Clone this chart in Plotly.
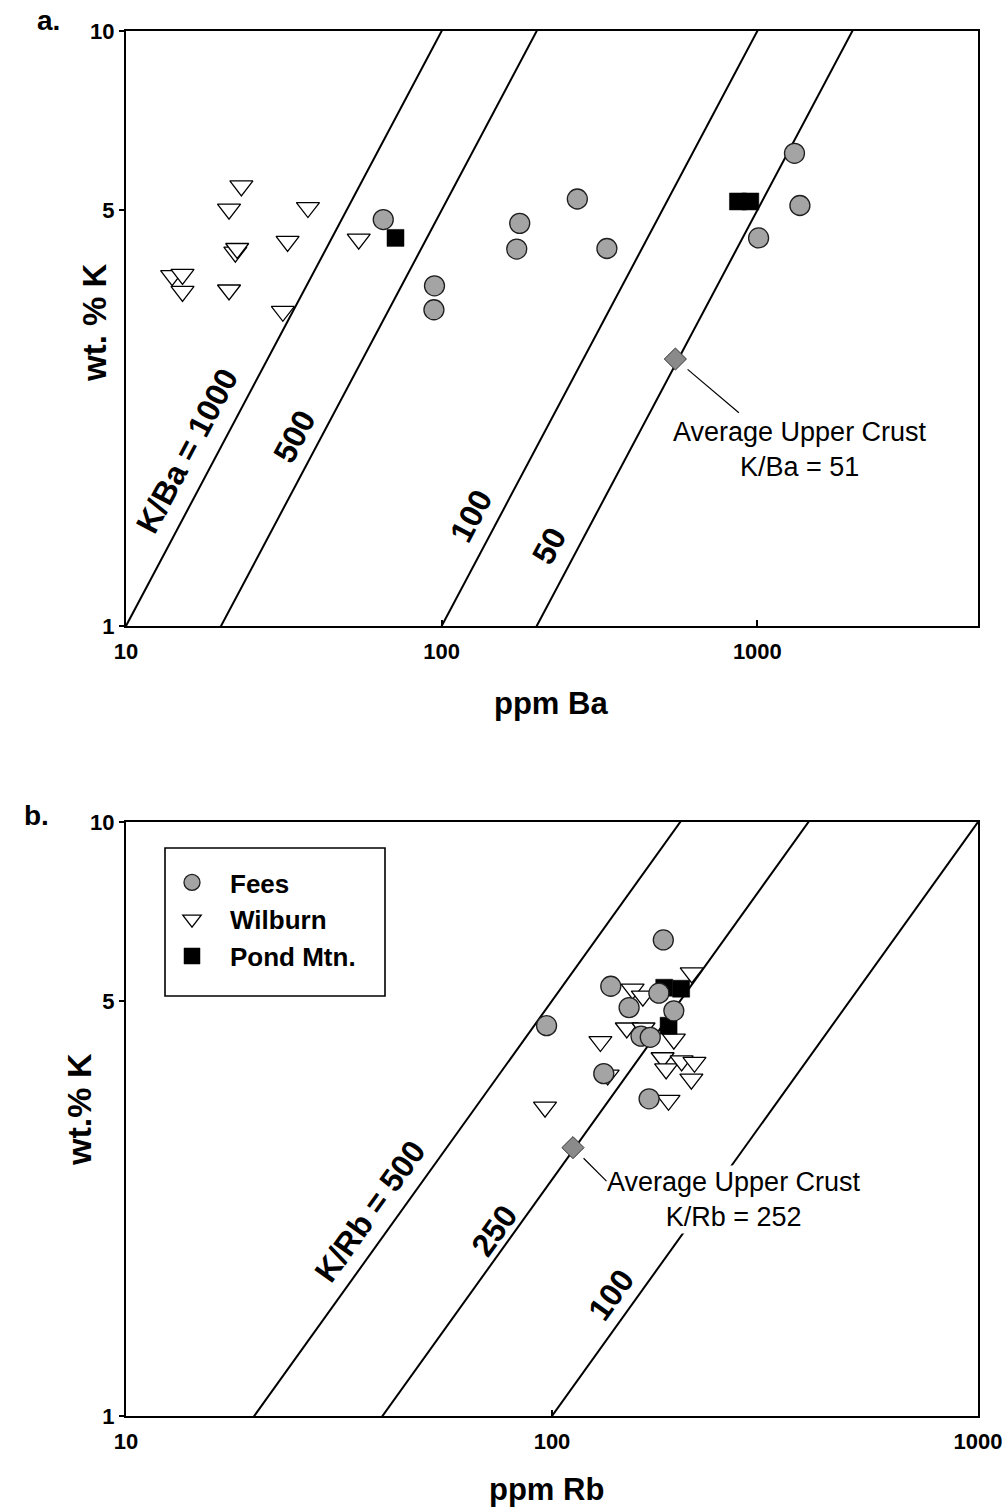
import numpy as np
import plotly.graph_objects as go

# ---------------- Panel a: wt.% K vs ppm Ba ----------------
fees_ba = [65.3, 94.9, 94.5, 176.7, 172.9, 269, 333.8, 1311, 1364, 1009]
fees_k_a = [4.82, 3.73, 3.40, 4.75, 4.30, 5.22, 4.31, 6.23, 5.09, 4.49]

wilburn_ba = [23.2, 21.2, 37.7, 32.5, 22.2, 22.5, 54.6, 14.0, 15.1, 15.1, 21.2, 31.4]
wilburn_k_a = [5.49, 5.02, 5.05, 4.43, 4.25, 4.31, 4.47, 3.88, 3.90, 3.65, 3.67, 3.38]

pond_ba = [71.4, 868, 950]
pond_k_a = [4.49, 5.17, 5.17]

crust_ba = [550]
crust_k_a = [2.81]

ratio_ba = [1000, 500, 100, 50]
ratio_ba_labels = ["K/Ba = 1000", "500", "100", "50"]
ratio_ba_label_k = [1.87, 1.99, 1.46, 1.30]

# ---------------- Panel b: wt.% K vs ppm Rb ----------------
fees_rb = [182.5, 137.4, 178.2, 151.7, 193.2, 97.1, 161.8, 170.1, 132.3, 169.0]
fees_k_b = [6.33, 5.29, 5.15, 4.87, 4.81, 4.54, 4.36, 4.34, 3.77, 3.42]

wilburn_rb = [212.8, 154.6, 163.4, 149.8, 164.0, 129.9, 193.2, 181.8, 185.3, 201.5, 216.0, 212.4, 135.1, 187.7, 96.3]
wilburn_k_b = [5.57, 5.23, 5.09, 4.50, 4.50, 4.27, 4.31, 4.01, 3.84, 3.96, 3.94, 3.69, 3.75, 3.40, 3.31]

pond_rb = [183.4, 201.0, 187.8]
pond_k_b = [5.26, 5.24, 4.54]

crust_rb = [112]
crust_k_b = [2.83]

ratio_rb = [500, 250, 100]
ratio_rb_labels = ["K/Rb = 500", "250", "100"]
ratio_rb_label_k = [2.09, 1.97, 1.52]

# tick labels
x_ticks_a = [10, 100, 1000]
x_ticks_b = [10, 100, 1000]
y_ticks = [1, 5, 10]

# ---------------- styling / layout constants ----------------
FONT = "Liberation Sans, Arial, sans-serif"
W, H = 1002, 1512
ML, MR, MT, MB = 126, 24, 31, 96
PW = W - ML - MR
PH = H - MT - MB
top_dom = [(1416 - 626) / PH, 1.0]
bot_dom = [0.0, (1416 - 822) / PH]

xr_a = [1, np.log10(5000)]
xr_b = [1, 3]
yr = [0, 1]

label_off_a = [28, 24, 25, 27]
label_off_b = [25, 17, 23]

fees_style = dict(symbol="circle", size=20, color="#a4a4a4", line=dict(color="#1e1e1e", width=1.3))
wil_style = dict(symbol="triangle-down", size=20, color="white", line=dict(color="black", width=1.3))
pond_style = dict(symbol="square", size=17, color="black", line=dict(color="black", width=0.5))
crust_style = dict(symbol="diamond", size=17, color="#8a8a8a", line=dict(color="#333333", width=1))

fig = go.Figure()

line_x = np.array([1.0, 1e5])


def add_panel(xa, ya, ratios, wil_x, wil_y, pond_x, pond_y, fees_x, fees_y, cr_x, cr_y, legend):
    for r in ratios:
        fig.add_trace(go.Scatter(x=line_x, y=line_x * r / 10000.0, mode="lines",
                                 line=dict(color="black", width=2), showlegend=False,
                                 hoverinfo="skip", xaxis=xa, yaxis=ya))
    fig.add_trace(go.Scatter(x=wil_x, y=wil_y, mode="markers", name="Wilburn", marker=wil_style,
                             showlegend=legend, legendrank=2, xaxis=xa, yaxis=ya))
    fig.add_trace(go.Scatter(x=pond_x, y=pond_y, mode="markers", name="Pond Mtn.", marker=pond_style,
                             showlegend=legend, legendrank=3, xaxis=xa, yaxis=ya))
    fig.add_trace(go.Scatter(x=fees_x, y=fees_y, mode="markers", name="Fees", marker=fees_style,
                             showlegend=legend, legendrank=1, xaxis=xa, yaxis=ya))
    fig.add_trace(go.Scatter(x=cr_x, y=cr_y, mode="markers", name="Average Upper Crust",
                             marker=crust_style, showlegend=False, xaxis=xa, yaxis=ya))


add_panel("x", "y", ratio_ba, wilburn_ba, wilburn_k_a, pond_ba, pond_k_a, fees_ba, fees_k_a,
          crust_ba, crust_k_a, False)
add_panel("x2", "y2", ratio_rb, wilburn_rb, wilburn_k_b, pond_rb, pond_k_b, fees_rb, fees_k_b,
          crust_rb, crust_k_b, True)

annotations = []


def ratio_labels(xref, yref, ratios, labels, ks, offs, xr, dom):
    px_per_dec_x = PW / (xr[1] - xr[0])
    px_per_dec_y = PH * (dom[1] - dom[0]) / (yr[1] - yr[0])
    theta = np.arctan2(px_per_dec_y, px_per_dec_x)
    for r, lab, k, d in zip(ratios, labels, ks, offs):
        xv = k * 10000.0 / r
        annotations.append(dict(
            x=np.log10(xv), y=np.log10(k), xref=xref, yref=yref, text=lab, showarrow=False,
            textangle=-np.degrees(theta), xanchor="center", yanchor="middle",
            xshift=-d * np.sin(theta), yshift=d * np.cos(theta),
            font=dict(family=FONT, size=32, color="black", weight="bold")))


ratio_labels("x", "y", ratio_ba, ratio_ba_labels, ratio_ba_label_k, label_off_a, xr_a, top_dom)
ratio_labels("x2", "y2", ratio_rb, ratio_rb_labels, ratio_rb_label_k, label_off_b, xr_b, bot_dom)

# Average upper crust callouts
annotations.append(dict(x=np.log10(crust_ba[0]), y=np.log10(crust_k_a[0]), xref="x", yref="y",
                        text="Average Upper Crust<br>K/Ba = 51", showarrow=False,
                        xshift=125, yshift=-90, xanchor="center", yanchor="middle",
                        font=dict(family=FONT, size=27, color="black")))
annotations.append(dict(x=np.log10(crust_ba[0]), y=np.log10(crust_k_a[0]), xref="x", yref="y",
                        text="", showarrow=True, arrowhead=0, arrowwidth=1.2, arrowcolor="black",
                        ax=65, ay=55, standoff=16, font=dict(size=1)))
annotations.append(dict(x=np.log10(crust_rb[0]), y=np.log10(crust_k_b[0]), xref="x2", yref="y2",
                        text="Average Upper Crust<br>K/Rb = 252", showarrow=False,
                        xshift=161, yshift=-52, xanchor="center", yanchor="middle",
                        bgcolor="white",
                        font=dict(family=FONT, size=27, color="black")))
annotations.append(dict(x=np.log10(crust_rb[0]), y=np.log10(crust_k_b[0]), xref="x2", yref="y2",
                        text="", showarrow=True, arrowhead=0, arrowwidth=1.2, arrowcolor="black",
                        ax=35, ay=35, standoff=15, font=dict(size=1)))


# panel letters and axis titles
def ptext(x, y, text, size, angle=0):
    annotations.append(dict(x=x, y=y, xref="paper", yref="paper", text=text, showarrow=False,
                            textangle=angle, xanchor="center", yanchor="middle",
                            font=dict(family=FONT, size=size, color="black", weight="bold")))


ptext(-0.0915, 1.0079, "a.", 28)
ptext(-0.1056, 0.4339, "b.", 28)
ptext(0.4988, 0.5148, "ppm Ba", 31)
ptext(0.493, -0.0534, "ppm Rb", 31)
ptext(-0.0364, 0.7899, "wt. % K", 33, -90)
ptext(-0.0552, 0.2217, "wt.% K", 34, -90)

tickfont = dict(family=FONT, size=22, color="black", weight="bold")
xaxis_common = dict(type="log", showgrid=False, zeroline=False, showline=True, linecolor="black",
                    linewidth=2.2, mirror=True, ticks="inside", ticklen=6, tickwidth=1.5,
                    tickcolor="black", tickfont=tickfont, ticklabelstandoff=4,
                    ticklabeloverflow="allow", automargin=False)
yaxis_common = dict(type="log", showgrid=False, zeroline=False, showline=True, linecolor="black",
                    linewidth=2.2, mirror=True, ticks="outside", ticklen=5, tickwidth=1.5,
                    tickcolor="black", tickfont=tickfont, range=yr, tickmode="array",
                    tickvals=y_ticks, ticktext=[str(v) for v in y_ticks], ticklabelstandoff=0,
                    ticklabeloverflow="allow", automargin=False)

# legend frame (drawn as a rectangle, legend itself borderless)
shapes = [dict(type="rect", xref="paper", yref="paper",
               x0=(165 - ML) / PW, x1=(385 - ML) / PW,
               y0=(1416 - 996) / PH, y1=(1416 - 848) / PH,
               line=dict(color="black", width=1.6), fillcolor="rgba(0,0,0,0)", layer="above")]

fig.update_layout(
    width=W, height=H,
    margin=dict(l=ML, r=MR, t=MT, b=MB, autoexpand=False),
    paper_bgcolor="white", plot_bgcolor="white",
    font=dict(family=FONT, color="black"),
    xaxis=dict(**xaxis_common, domain=[0, 1], range=xr_a, anchor="y", tickmode="array",
               tickvals=x_ticks_a, ticktext=[str(v) for v in x_ticks_a]),
    yaxis=dict(**yaxis_common, domain=top_dom, anchor="x"),
    xaxis2=dict(**xaxis_common, domain=[0, 1], range=xr_b, anchor="y2", tickmode="array",
                tickvals=x_ticks_b, ticktext=[str(v) for v in x_ticks_b]),
    yaxis2=dict(**yaxis_common, domain=bot_dom, anchor="x2"),
    legend=dict(x=(154 - ML) / PW, y=(1416 - 859) / PH, xanchor="left", yanchor="top",
                bgcolor="rgba(0,0,0,0)", borderwidth=0,
                font=dict(family=FONT, size=26, color="black", weight="bold"),
                itemwidth=66),
    annotations=annotations,
    shapes=shapes,
    showlegend=True,
)

fig.write_html("out.html")
